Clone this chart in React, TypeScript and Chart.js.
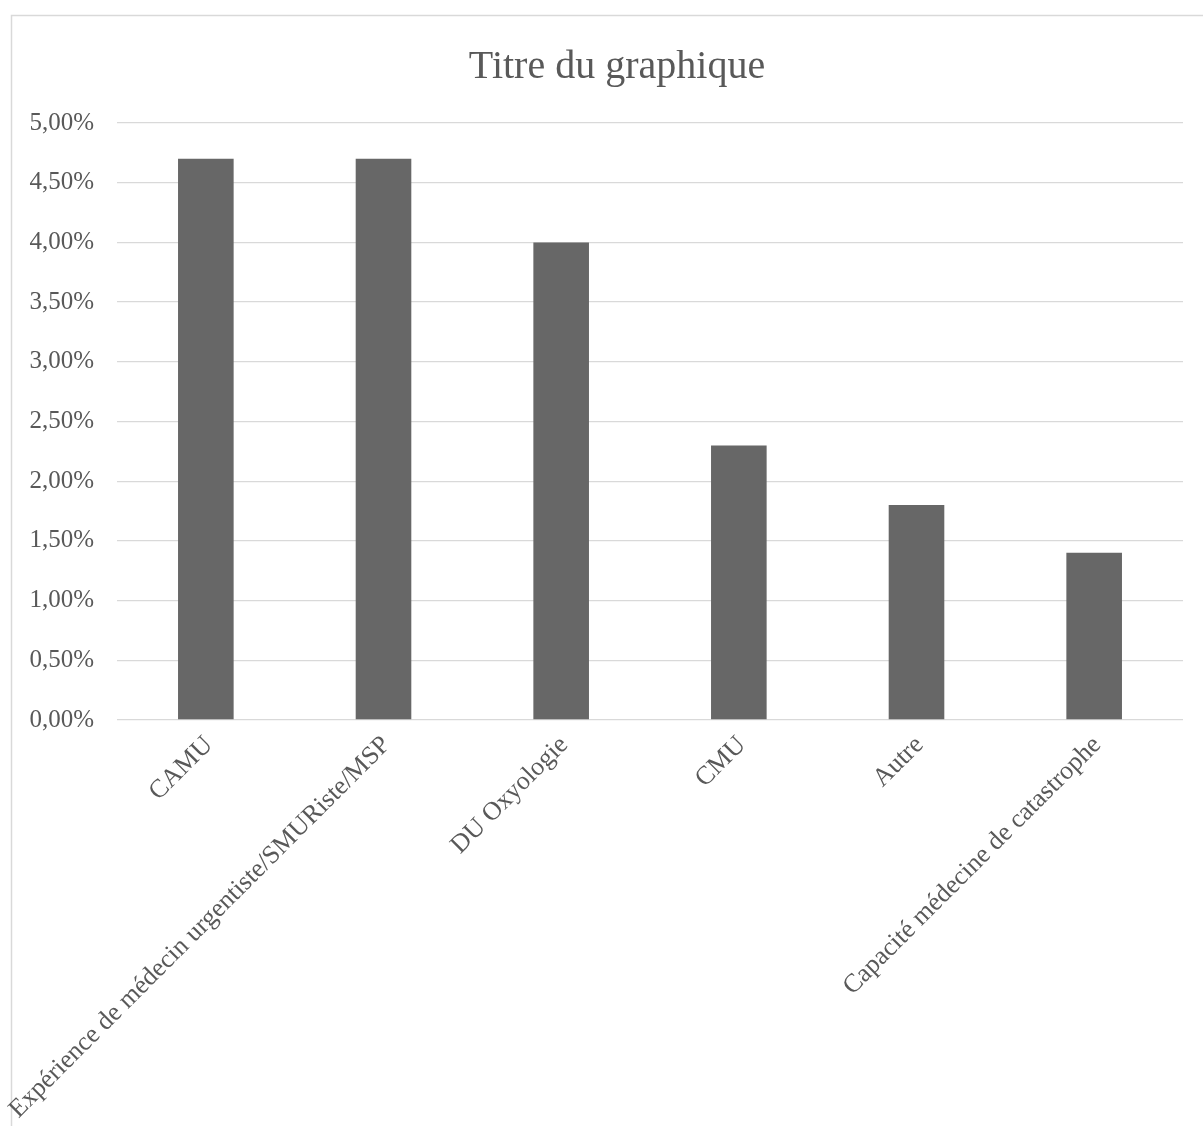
import React, { useEffect, useRef } from "react";
import { Chart, registerables } from "chart.js";

Chart.register(...registerables);

const categories = [
  "CAMU",
  "Expérience de médecin urgentiste/SMURiste/MSP",
  "DU Oxyologie",
  "CMU",
  "Autre",
  "Capacité médecine de catastrophe",
];
const values = [4.7, 4.7, 4.0, 2.3, 1.8, 1.4];
const yMin = 0;
const yMax = 5;
const yStep = 0.5;
const chartTitle = "Titre du graphique";

const FONT = "'Liberation Serif', 'Times New Roman', serif";
const TEXT = "#595959";
const GRID = "#d9d9d9";
const BAR = "#676767";

const framePlugin = {
  id: "frame",
  beforeDraw(chart: any) {
    const ctx = chart.ctx;
    ctx.save();
    ctx.fillStyle = "#ffffff";
    ctx.fillRect(0, 0, chart.width, chart.height);
    ctx.strokeStyle = GRID;
    ctx.lineWidth = 1.5;
    ctx.strokeRect(11.5, 15.5, 1212, 2000);
    ctx.restore();
  },
};

export default function App() {
  const ref = useRef<HTMLCanvasElement | null>(null);
  useEffect(() => {
    if (!ref.current) return;
    const chart = new Chart(ref.current, {
      type: "bar",
      data: {
        labels: categories,
        datasets: [
          {
            data: values,
            backgroundColor: BAR,
            borderWidth: 0,
            barPercentage: 0.313,
            categoryPercentage: 1,
          },
        ],
      },
      options: {
        animation: false,
        responsive: false,
        devicePixelRatio: 1,
        layout: { padding: { left: 11, right: 17, top: 15, bottom: 0 } },
        plugins: {
          legend: { display: false },
          tooltip: { enabled: false },
          title: {
            display: true,
            text: chartTitle,
            color: TEXT,
            font: { family: FONT, size: 40, weight: "normal", lineHeight: 1.2 },
            padding: { top: 28, bottom: 32 },
          },
        },
        scales: {
          x: {
            grid: { display: false, drawTicks: false },
            border: { display: false },
            ticks: {
              autoSkip: false,
              maxRotation: 45,
              minRotation: 45,
              color: TEXT,
              font: { family: FONT, size: 26 },
              padding: 10,
              labelOffset: 3,
            },
            afterFit(scale: any) {
              scale.height = 406;
            },
          },
          y: {
            min: yMin,
            max: yMax,
            grid: { color: GRID, lineWidth: 1.3, drawTicks: false },
            border: { display: false },
            ticks: {
              stepSize: yStep,
              color: TEXT,
              font: { family: FONT, size: 25 },
              padding: 23,
              callback: (v: any) => Number(v).toFixed(2).replace(".", ",") + "%",
            },
            afterFit(scale: any) {
              scale.width = 106;
            },
          },
          yRight: {
            position: "right",
            display: true,
            grid: { display: false, drawTicks: false },
            border: { display: false },
            ticks: { display: false },
            afterFit(scale: any) {
              scale.width = 40;
            },
          },
        },
      },
      plugins: [framePlugin],
    } as any);
    return () => chart.destroy();
  }, []);
  return (
    <div style={{ position: "fixed", left: 0, top: 0, width: 1240, height: 1126 }}>
      <canvas ref={ref} width={1240} height={1126} style={{ width: 1240, height: 1126, display: "block" }} />
    </div>
  );
}
